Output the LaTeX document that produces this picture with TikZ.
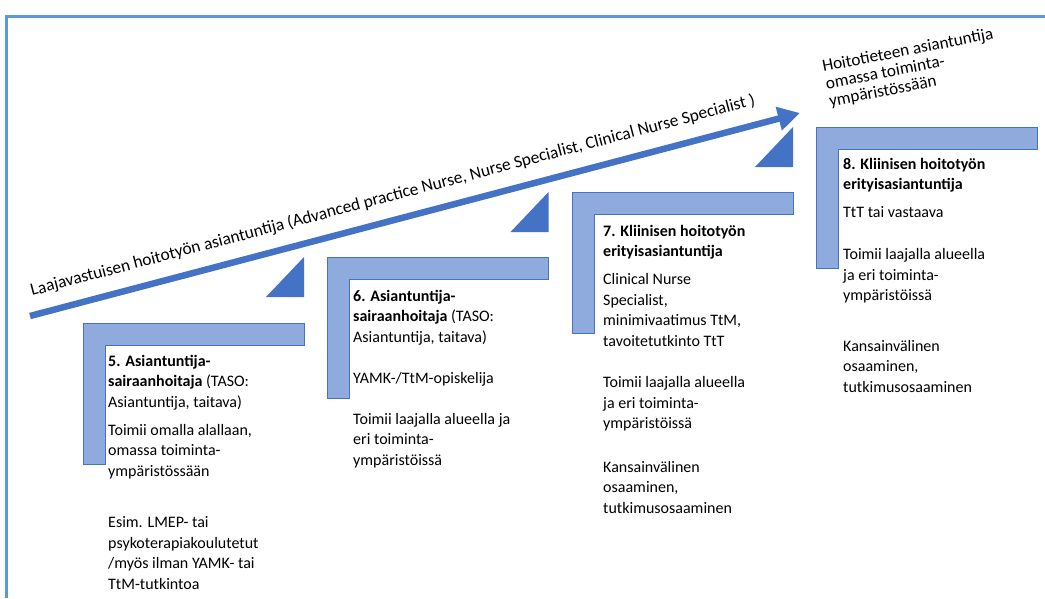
\documentclass[tikz,border=0pt]{standalone}
\usepackage{fontspec}
\setmainfont{Carlito}
\usetikzlibrary{arrows.meta,positioning}
\definecolor{frameblue}{HTML}{5B9BD5}
\definecolor{accentblue}{HTML}{4472C4}
\definecolor{stepfill}{HTML}{8FAADC}

\begin{document}
\begin{tikzpicture}
				[
					x=1pt, y=-1pt,
					bracket/.style={fill=stepfill, draw=accentblue, line width=0.8pt},
					wedge/.style={fill=accentblue, draw=none},
					steptext/.style={anchor=north west, align=left, inner sep=0pt, font=\fontsize{16}{20.5}\selectfont},
					track/.style={draw=accentblue, line width=6.5pt, -{Triangle[length=22pt, width=23pt]}},
					border/.style={draw=frameblue, line width=3pt},
				]

				\useasboundingbox (0,0) rectangle (1045,598);
				\draw[border] (6,598) -- (6,16) -- (1045,16);

				% steps
				\draw[bracket] (83,323) -- ++(221,0) -- ++(0,22) -- ++(-199,0) -- ++(0,119) -- ++(-22,0) -- cycle;
				\draw[bracket] (327.5,257.7) -- ++(221,0) -- ++(0,22) -- ++(-199,0) -- ++(0,119) -- ++(-22,0) -- cycle;
				\draw[bracket] (572,192.4) -- ++(221,0) -- ++(0,22) -- ++(-199,0) -- ++(0,119) -- ++(-22,0) -- cycle;
				\draw[bracket] (816.5,127.1) -- ++(221,0) -- ++(0,22) -- ++(-199,0) -- ++(0,119) -- ++(-22,0) -- cycle;

				\fill[wedge] (304,297) -- ++(-38,0) -- ++(38,-40) -- cycle;
				\fill[wedge] (548.5,232) -- ++(-38,0) -- ++(38,-40) -- cycle;
				\fill[wedge] (793,167) -- ++(-38,0) -- ++(38,-40) -- cycle;

				\coordinate (trackstart) at (30,316);
				\coordinate (tracktip) at (800,113);
				\draw[track] (trackstart) -- (tracktip);

				\node [steptext, font=\fontsize{17.4}{20.5}\selectfont, anchor=base west, rotate=14.77] (tracklabel) at (32,296) {Laajavastuisen hoitotyön asiantuntija (Advanced practice Nurse, Nurse Specialist, Clinical Nurse Specialist )};
				\node [steptext, font=\fontsize{17.2}{17.8}\selectfont, rotate=11] (goal) at (821,60) {Hoitotieteen asiantuntija\\omassa toiminta-\\ympäristössään};

				\node [steptext] (step5) at (108,355) {\textbf{5. Asiantuntija-}\\\textbf{sairaanhoitaja} (TASO:\\Asiantuntija, taitava)\\[7.5pt]Toimii omalla alallaan,\\omassa toiminta-\\ympäristössään\\[31pt]Esim. LMEP- tai\\psykoterapiakoulutetut\\/myös ilman YAMK- tai\\TtM-tutkintoa};
				\node [steptext] (step6) at (353,290) {\textbf{6. Asiantuntija-}\\\textbf{sairaanhoitaja} (TASO:\\Asiantuntija, taitava)\\[20.5pt]YAMK-/TtM-opiskelija\\[20.5pt]Toimii laajalla alueella ja\\eri toiminta-\\ympäristöissä};
				\node [steptext] (step7) at (603,225) {\textbf{7. Kliinisen hoitotyön}\\\textbf{erityisasiantuntija}\\[7.5pt]Clinical Nurse\\Specialist,\\minimivaatimus TtM,\\tavoitetutkinto TtT\\[21pt]Toimii laajalla alueella\\ja eri toiminta-\\ympäristöissä\\[23pt]Kansainvälinen\\osaaminen,\\tutkimusosaaminen};
				\node [steptext] (step8) at (843,158) {\textbf{8. Kliinisen hoitotyön}\\\textbf{erityisasiantuntija}\\[7pt]TtT tai vastaava\\[22pt]Toimii laajalla alueella\\ja eri toiminta-\\ympäristöissä\\[30pt]Kansainvälinen\\osaaminen,\\tutkimusosaaminen};

			\end{tikzpicture}
\end{document}
